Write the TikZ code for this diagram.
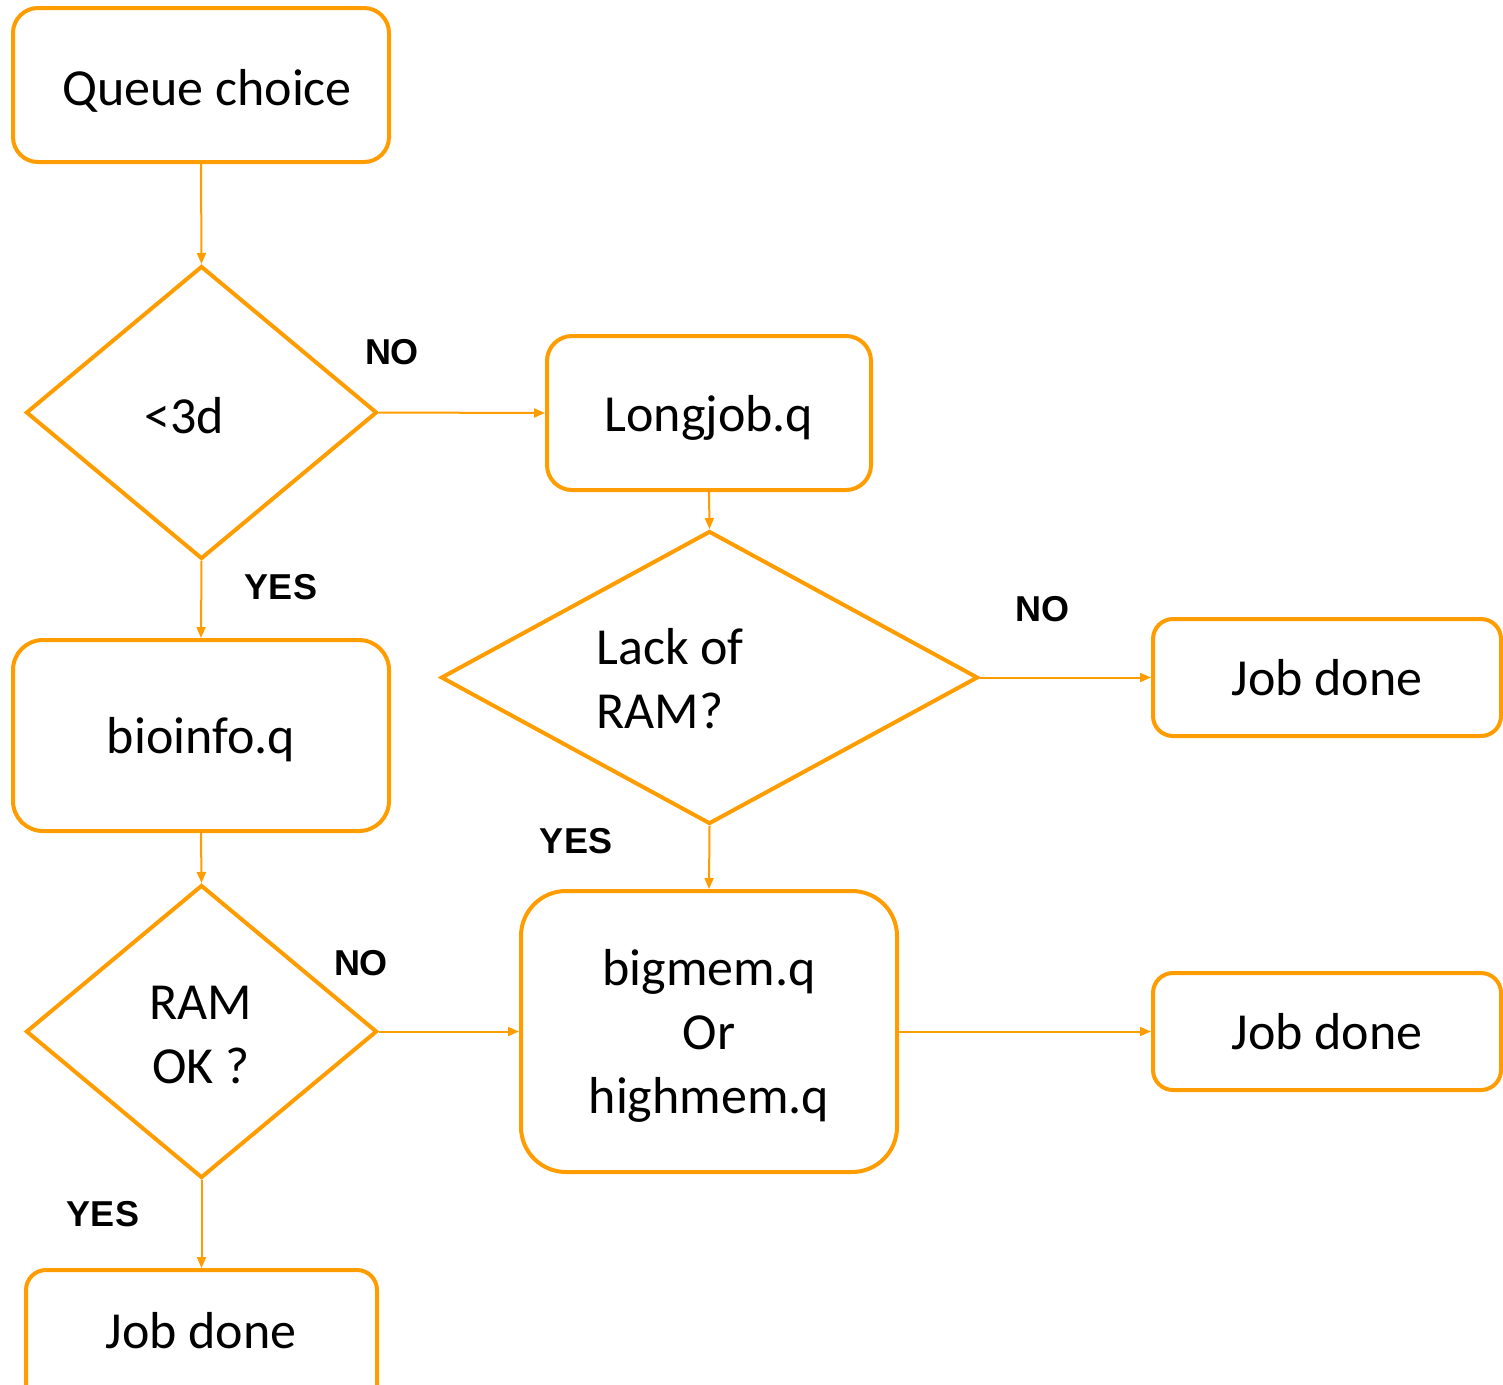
\documentclass[tikz,border=0pt]{standalone}
\usepackage{fontspec}
\setmainfont{Carlito}
\newfontfamily\lblfont{Liberation Sans}
\usetikzlibrary{shapes.geometric,arrows.meta}
\definecolor{qorange}{HTML}{FF9C00}
\tikzset{
  box/.style={draw=qorange, line width=4pt, rounded corners=#1, inner sep=0pt, text depth=0pt, font=\fontsize{52}{64}\selectfont},
  box/.default=25pt,
  dia/.style={draw=qorange, line width=4pt, diamond, inner sep=0pt},
  txt/.style={font=\fontsize{52}{64}\selectfont, inner sep=0pt},
  conn/.style={draw=qorange, line width=2pt, -{Triangle[length=11pt,width=9pt]}},
  lbl/.style={font=\lblfont\bfseries\fontsize{36}{40}\selectfont, inner sep=0pt}
}
\begin{document}
\begin{tikzpicture}[x=1pt,y=-1pt]
\useasboundingbox (0,0) rectangle (1503,1384);
% boxes
\node[box, minimum width=376pt, minimum height=154pt] (queue) at (201,85) {};
\node[txt] (queuet) at (207,91) {Queue choice};
\node[dia, minimum width=351pt, minimum height=293pt] (d1) at (201.5,412.5) {};
\node[txt] (d1t) at (184,416) {<3d};
\node[box, minimum width=324pt, minimum height=154pt] (longjob) at (709,413) {Longjob.q};
\node[box=30pt, minimum width=376pt, minimum height=191pt] (bioinfo) at (201,735.5) {bioinfo.q};
\node[dia, minimum width=537pt, minimum height=293pt] (d2) at (709.5,677.5) {};
\node[txt, align=left] (d2t) at (670,679) {Lack of\\RAM?};
\node[box=20pt, minimum width=348pt, minimum height=117pt] (done1) at (1327,677.5) {Job done};
\node[dia, minimum width=351pt, minimum height=293pt] (d3) at (201.5,1031.5) {};
\node[txt, align=center] (d3t) at (201,1035) {RAM\\OK ?};
\node[box=45pt, minimum width=376pt, minimum height=281pt, align=center] (bigmem) at (709,1031.5) {bigmem.q\\Or\\highmem.q};
\node[box=20pt, minimum width=348pt, minimum height=117pt] (done2) at (1327,1031.5) {Job done};
\node[box=20pt, minimum width=351pt, minimum height=150pt, anchor=north] (done3) at (201.5,1268) {};
\node[txt] (done3t) at (201,1331) {Job done};
% connectors
\draw[conn] (queue.south) -- (d1.north);
\draw[conn] (d1.east) -- (longjob.west);
\draw[conn] (d1.south) -- (bioinfo.north);
\draw[conn] (longjob.south) -- (d2.north);
\draw[conn] (d2.east) -- (done1.west |- d2.east);
\draw[conn] (d2.south) -- (bigmem.north);
\draw[conn] (bioinfo.south) -- (d3.north);
\draw[conn] (d3.east) -- (bigmem.west |- d3.east);
\draw[conn] (bigmem.east) -- (done2.west);
\draw[conn] (d3.south) -- (done3.north);
% labels
\node[lbl] (no1) at (392,352) {NO};
\node[lbl] (yes1) at (281,587) {YES};
\node[lbl] (no2) at (1042,609) {NO};
\node[lbl] (yes2) at (576,841) {YES};
\node[lbl] (no3) at (361,963) {NO};
\node[lbl] (yes3) at (103,1214) {YES};
\end{tikzpicture}
\end{document}
